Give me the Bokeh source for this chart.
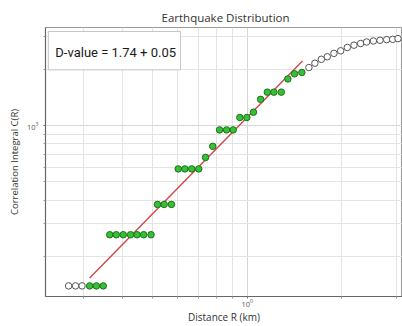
from bokeh.plotting import figure
from bokeh.models import Range1d, Label, BoxAnnotation, FixedTicker, LogTickFormatter
from bokeh.embed import file_html
from bokeh.resources import INLINE

# ---- data ----
dist_low = [0.269, 0.283, 0.297]
corr_low = [139, 139, 139]

dist_fit = [0.314, 0.330, 0.347,
            0.364, 0.382, 0.402, 0.424, 0.445, 0.467, 0.493,
            0.517, 0.543, 0.573,
            0.602, 0.632, 0.665, 0.700,
            0.736, 0.776,
            0.816, 0.859, 0.902,
            0.947, 0.997,
            1.047, 1.103,
            1.159, 1.216, 1.284,
            1.348, 1.416, 1.494]
corr_fit = [139, 139, 139,
            261, 261, 261, 261, 261, 261, 261,
            379, 379, 379,
            587, 587, 587, 587,
            676, 775,
            949, 949, 949,
            1105, 1105,
            1180, 1382,
            1510, 1510, 1510,
            1776, 1893, 1924]

dist_high = [1.573, 1.644, 1.724, 1.801, 1.891, 1.987, 2.087, 2.191,
             2.301, 2.405, 2.527, 2.653, 2.786, 2.912, 3.028]
corr_high = [2044, 2157, 2263, 2335, 2434, 2512, 2618, 2692,
             2748, 2800, 2835, 2860, 2884, 2894, 2919]

fit_dist = [0.314, 1.50]
fit_corr = [153, 2217]

d_value = 1.74
d_error = 0.05

x_major = [1.0]
x_minor = [0.3, 0.4, 0.5, 0.6, 0.7, 0.8, 0.9, 2.0, 3.0]
y_major = [1000]
y_minor = [200, 300, 400, 500, 600, 700, 800, 900, 2000, 3000]

# ---- figure ----
p = figure(width=402, height=326, x_axis_type="log", y_axis_type="log",
           x_range=Range1d(0.227, 3.13), y_range=Range1d(122, 3347),
           output_backend="svg", toolbar_location=None,
           min_border_left=45, min_border_right=0, min_border_top=27,
           min_border_bottom=26)
p.background_fill_color = "white"
p.border_fill_color = "white"
p.outline_line_color = "#999999"
p.outline_line_width = 1

p.title.text = "Earthquake Distribution"
p.title.text_font = "Open Sans"
p.title.text_font_size = "11.5px"
p.title.text_font_style = "normal"
p.title.text_color = "#333333"
p.title.align = "left"
p.title.offset = 116
p.title.standoff = 5

p.xaxis.ticker = FixedTicker(ticks=x_major, minor_ticks=x_minor)
p.yaxis.ticker = FixedTicker(ticks=y_major, minor_ticks=y_minor)
p.xaxis.formatter = LogTickFormatter()
p.yaxis.formatter = LogTickFormatter()

for g in (p.xgrid, p.ygrid):
    g.grid_line_color = "#d6d6d6"
    g.grid_line_width = 1
    g.minor_grid_line_color = "#e4e4e4"
    g.minor_grid_line_width = 1

for ax in (p.xaxis, p.yaxis):
    ax.axis_line_color = "#666666"
    ax.axis_line_width = 1.2
    ax.major_tick_in = 0
    ax.major_tick_out = 2
    ax.minor_tick_in = 0
    ax.minor_tick_out = 2
    ax.major_tick_line_color = "#777777"
    ax.minor_tick_line_color = "#999999"
    ax.major_label_text_font = "Open Sans"
    ax.major_label_text_font_size = "7.5px"
    ax.major_label_text_color = "#555555"
    ax.axis_label_text_font = "Open Sans"
    ax.axis_label_text_font_style = "normal"
    ax.axis_label_text_color = "#333333"

p.xaxis.axis_label = "Distance R (km)"
p.xaxis.axis_label_text_font_size = "10px"
p.xaxis.major_label_standoff = 0
p.xaxis.axis_label_standoff = 0

p.yaxis.axis_label = "Correlation Integral C(R)"
p.yaxis.axis_label_text_font_size = "9.5px"
p.yaxis.major_label_standoff = 5
p.yaxis.axis_label_standoff = 3

# ---- regression line and points ----
p.line(fit_dist, fit_corr, line_color="#d04848", line_width=1.4)

p.scatter(dist_low, corr_low, size=6.5, fill_color="white",
          line_color="#555555", line_width=1)
p.scatter(dist_high, corr_high, size=6.5, fill_color="white",
          line_color="#555555", line_width=1)
p.scatter(dist_fit, corr_fit, size=6.5, fill_color="#34c234",
          line_color="#1f6f1f", line_width=1)

# ---- D-value box ----
box = BoxAnnotation(left=0.2318, right=0.612, top=3189, bottom=1988,
                    fill_color="white", fill_alpha=1.0,
                    line_color="#c4c4c4", line_alpha=1.0, line_width=1)
p.add_layout(box)
lab = Label(x=0.244, y=2449, text=f"D-value = {d_value} + {d_error}",
            text_font="Roboto", text_font_size="13px",
            text_color="#1a1a1a", text_align="left", text_baseline="middle")
p.add_layout(lab)

open("out.html", "w").write(file_html(p, INLINE))
